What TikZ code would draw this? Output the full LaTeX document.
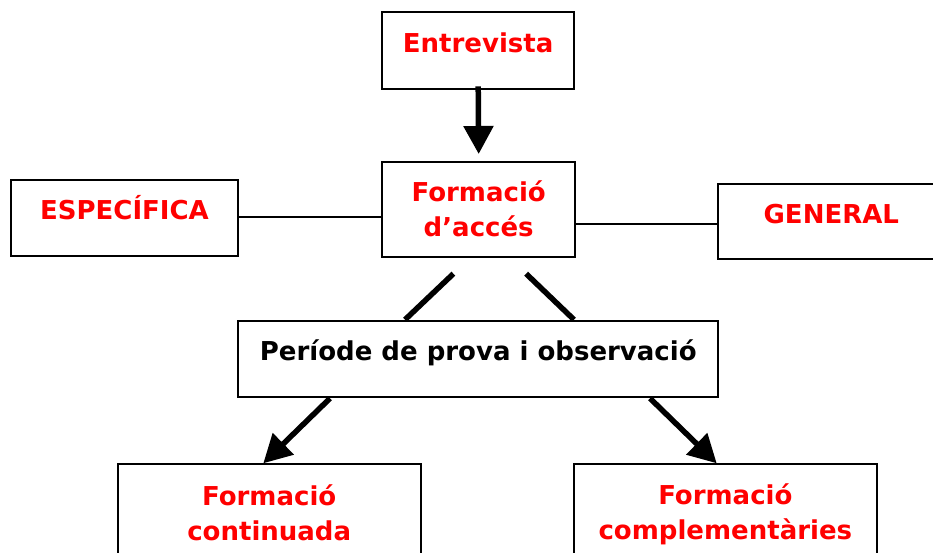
\documentclass[tikz,border=0pt]{standalone}
\usepackage{fontspec}
\setmainfont{DejaVu Sans}
\usetikzlibrary{arrows.meta}
\definecolor{txtred}{RGB}{255,0,0}
\tikzset{
  box/.style={draw=black, line width=2pt, inner sep=0pt, anchor=base, fill=white,
              font=\fontsize{26}{35}\selectfont\bfseries},
  redtxt/.style={text=txtred},
  thinline/.style={line width=2pt},
  thickline/.style={line width=5.5pt},
  arr/.style={line width=5.5pt, -{Triangle[length=28pt,width=29pt]}}
}
\newcommand{\twolines}[2]{\begin{tabular}[t]{@{}c@{}}#1\\#2\end{tabular}}
\begin{document}
\begin{tikzpicture}[x=1pt,y=-1pt]
\useasboundingbox (0,0) rectangle (933,553);
\clip (0,0) rectangle (933,553);
\node[box, redtxt, minimum width=191.7pt, text height=40pt, text depth=37pt] (entr) at (478.2,52.3) {Entrevista};
\node[box, redtxt, minimum width=192.7pt, text height=40pt, text depth=55pt] (acces) at (478.7,201.7) {\twolines{Formació}{d’accés}};
\node[box, redtxt, minimum width=227.6pt, text height=40pt, text depth=36pt] (esp) at (124.5,220) {ESPECÍFICA};
\node[box, redtxt, minimum width=227.2pt, text height=39.7pt, text depth=35.3pt] (gen) at (831.3,224) {GENERAL};
\node[box, minimum width=480pt, text height=39.3pt, text depth=37.3pt] (per) at (478.3,360) {Període de prova i observació};
\node[box, redtxt, minimum width=303pt, text height=40.7pt, text depth=100pt] (cont) at (269.2,505) {\twolines{Formació}{continuada}};
\node[box, redtxt, minimum width=302.7pt, text height=39.7pt, text depth=100pt] (comp) at (725.35,504) {\twolines{Formació}{complementàries}};
\coordinate (ly1) at (0,216.7);
\coordinate (ly2) at (0,224.3);
\draw[thinline] (esp.east |- ly1) -- (acces.west |- ly1);
\draw[thinline] (acces.east |- ly2) -- (gen.west |- ly2);
\draw[arr] ([yshift=4pt]entr.south) -- ([yshift=6.7pt]acces.north);
\draw[thickline] ([xshift=-25.3pt,yshift=-16pt]acces.south) -- ([xshift=-73.3pt]per.north);
\draw[thickline] ([xshift=47.4pt,yshift=-16pt]acces.south) -- ([xshift=95.7pt]per.north);
\draw[arr] ([xshift=-148.3pt]per.south) -- ([xshift=-5.9pt]cont.north);
\draw[arr] ([xshift=171.7pt]per.south) -- ([xshift=-8.65pt]comp.north);
\end{tikzpicture}
\end{document}
